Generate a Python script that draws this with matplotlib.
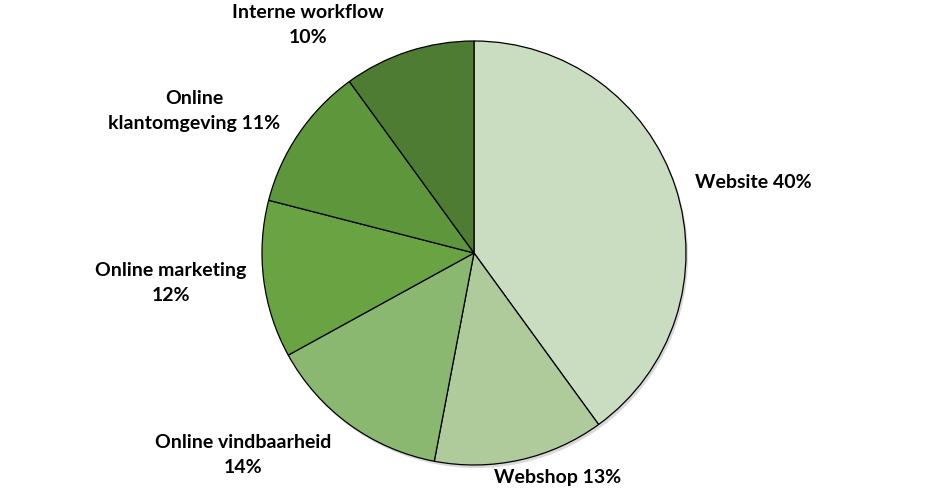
import matplotlib.pyplot as plt

# slice data, clockwise from 12 o'clock
labels = ["Website 40%", "Webshop 13%", "Online vindbaarheid\n14%",
          "Online marketing\n12%", "Online\nklantomgeving 11%", "Interne workflow\n10%"]
shares = [40, 13, 14, 12, 11, 10]
colors = ["#CADDC1", "#AFCB9C", "#8BB870", "#6AA442", "#5E973B", "#4E7C33"]

# label placement (pixels, y from top) and alignment
label_pos = [(695, 182), (558, 478), (243, 455), (171, 283), (194, 111), (308, 25)]
label_ha = ["left", "center", "center", "center", "center", "center"]

plt.rcParams["font.family"] = ["Lato", "DejaVu Sans"]

W, H = 950, 493
fig = plt.figure(figsize=(9.5, 4.93), dpi=100)
ax = fig.add_axes([0, 0, 1, 1])

cx, cy, r = 474, H - 253, 212

# faint shadow
ax.pie([1], colors=["#d9d9d9"], radius=r, center=(cx + 2, cy - 3),
       frame=True, wedgeprops=dict(linewidth=0))

ax.pie(shares, colors=colors, startangle=90, counterclock=False,
       radius=r, center=(cx, cy), frame=True,
       wedgeprops=dict(edgecolor="black", linewidth=0.9))
ax.set_xlim(0, W)
ax.set_ylim(0, H)
ax.axis("off")

for txt, (x, y), ha in zip(labels, label_pos, label_ha):
    ax.text(x, H - y, txt, ha=ha, va="center", fontsize=14,
            fontweight="bold", linespacing=1.55, color="black")

fig.savefig("out.png", dpi=100)
